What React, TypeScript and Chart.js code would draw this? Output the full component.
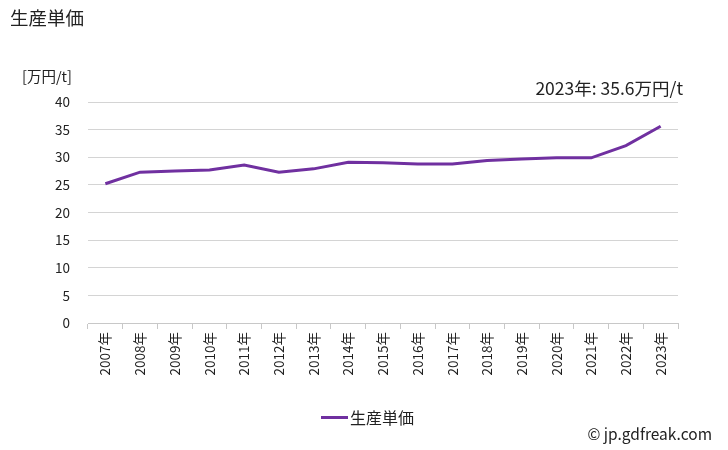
import React, { useEffect, useRef } from "react";
import { Chart, registerables } from "chart.js";

Chart.register(...registerables);

const title = "生産単価";
const unitLabel = "[万円/t]";
const seriesName = "生産単価";
const annotation = "2023年: 35.6万円/t";
const copyright = "© jp.gdfreak.com";

const categories = [
  "2007年", "2008年", "2009年", "2010年", "2011年", "2012年", "2013年", "2014年", "2015年",
  "2016年", "2017年", "2018年", "2019年", "2020年", "2021年", "2022年", "2023年",
];
const values = [
  25.2, 27.3, 27.5, 27.7, 28.6, 27.3, 27.9, 29.1, 29.0,
  28.8, 28.8, 29.4, 29.7, 29.9, 29.9, 32.1, 35.6,
];
const yTicks = [0, 5, 10, 15, 20, 25, 30, 35, 40];

const FONT = "'Noto Sans CJK JP', 'Noto Sans', sans-serif";
const LINE_COLOR = "#7030a0";

export default function App() {
  const ref = useRef<HTMLCanvasElement | null>(null);

  useEffect(() => {
    if (!ref.current) return;
    const chart = new Chart(ref.current, {
      type: "line",
      data: {
        labels: categories,
        datasets: [
          {
            label: seriesName,
            data: values,
            borderColor: LINE_COLOR,
            backgroundColor: LINE_COLOR,
            borderWidth: 3,
            pointRadius: 0,
            tension: 0,
          },
        ],
      },
      options: {
        responsive: false,
        animation: false,
        layout: { padding: { left: 0, right: 50, top: 102, bottom: 67 } },
        plugins: {
          legend: { display: false },
          tooltip: { enabled: false },
        },
        scales: {
          x: {
            offset: true,
            grid: {
              offset: true,
              drawOnChartArea: false,
              drawTicks: true,
              tickLength: 6,
              color: "#c8c8c8",
            },
            border: { display: true, color: "#c8c8c8" },
            ticks: {
              minRotation: 90,
              maxRotation: 90,
              autoSkip: false,
              padding: 3,
              color: "#222",
              font: { family: FONT, size: 13.5 },
            },
            afterFit: (s: any) => {
              s.height = 60;
            },
          },
          y: {
            min: 0,
            max: 40,
            afterBuildTicks: (s: any) => {
              s.ticks = yTicks.map((v) => ({ value: v }));
            },
            grid: { color: "#d4d4d4", drawTicks: false, lineWidth: 1 },
            border: { display: false },
            ticks: {
              padding: 18,
              color: "#222",
              font: { family: FONT, size: 13.5 },
            },
            afterFit: (s: any) => {
              s.width = 88;
            },
          },
        },
      },
    });
    return () => chart.destroy();
  }, []);

  const txt: React.CSSProperties = {
    position: "absolute",
    fontFamily: FONT,
    color: "#222",
    whiteSpace: "nowrap",
    lineHeight: 1,
  };

  return (
    <div style={{ position: "fixed", left: 0, top: 0, width: 728, height: 450, background: "#fff" }}>
      <canvas ref={ref} width={728} height={450} style={{ position: "absolute", left: 0, top: 0 }} />
      <div style={{ ...txt, left: 10, top: 8, fontSize: 18.5 }}>{title}</div>
      <div style={{ ...txt, left: 22, top: 69, fontSize: 14.5 }}>{unitLabel}</div>
      <div style={{ ...txt, right: 728 - 683, top: 79, fontSize: 17.5 }}>{annotation}</div>
      <div style={{ ...txt, left: 321, top: 409, fontSize: 16, display: "flex", alignItems: "center" }}>
        <span style={{ display: "inline-block", width: 27, height: 3, background: LINE_COLOR, marginRight: 2 }} />
        {seriesName}
      </div>
      <div style={{ ...txt, right: 728 - 712, top: 426, fontSize: 15.5 }}>{copyright}</div>
    </div>
  );
}
